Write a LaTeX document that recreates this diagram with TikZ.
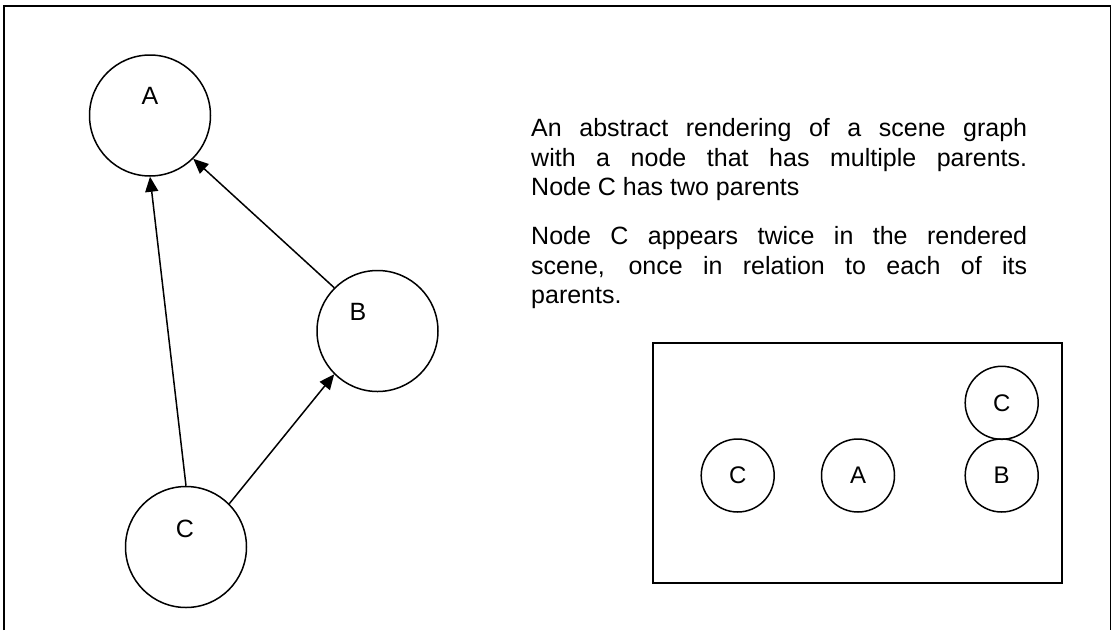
\documentclass[tikz,border=0pt]{standalone}
\usepackage{fontspec}
\setmainfont{Liberation Sans}
\usetikzlibrary{arrows.meta}
\begin{document}
\begin{tikzpicture}[x=1pt,y=-1pt,
  bigcirc/.style={draw,circle,line width=1.5pt,minimum size=121pt,inner sep=0pt},
  smallcirc/.style={draw,circle,line width=1.5pt,minimum size=73pt,inner sep=0pt,font=\fontsize{24}{28}\selectfont},
  lbl/.style={inner sep=0pt,font=\fontsize{25}{29}\selectfont},
  edge/.style={line width=1.5pt,-{Triangle[length=15pt,width=13pt]}},
  para/.style={inner sep=0pt,anchor=north west,text width=496pt,align=justify,font=\fontsize{25}{29.8}\selectfont}]
\useasboundingbox (0,0) rectangle (1112,630);
\fill[white] (0,0) rectangle (1112,630);
% outer frame
\draw[line width=1.3pt] (4,630) -- (4,6) -- (1110.5,6) -- (1110.5,630);
% graph
\node[bigcirc] (A) at (150,115.5) {};
\node[bigcirc] (B) at (377.5,331) {};
\node[bigcirc] (C) at (186,547) {};
\node[lbl] (Al) at (150,96) {A};
\node[lbl] (Bl) at (358,311.5) {B};
\node[lbl] (Cl) at (185,529) {C};
\draw[edge] (C.north) -- (A.south);
\draw[edge] (B.135) -- (A.-45);
\draw[edge] (C.45) -- (B.225);
% text
\node[para] (t1) at (531,118) {An abstract rendering of a scene graph\linebreak with a node that has multiple parents.\linebreak Node C has two parents};
\node[para] (t2) at (531,226) {Node C appears twice in the rendered\linebreak scene, once in relation to each of its\linebreak parents.};
% rendered scene
\node[draw,line width=1.8pt,minimum width=409pt,minimum height=240pt,inner sep=0pt] (scene) at (857.5,463) {};
\node[smallcirc] (sC1) at (737.7,475.5) {C};
\node[smallcirc] (sA) at (858,475.5) {A};
\node[smallcirc] (sB) at (1001.7,475.5) {B};
\node[smallcirc] (sC2) at (1001.7,402.8) {C};
\end{tikzpicture}
\end{document}
